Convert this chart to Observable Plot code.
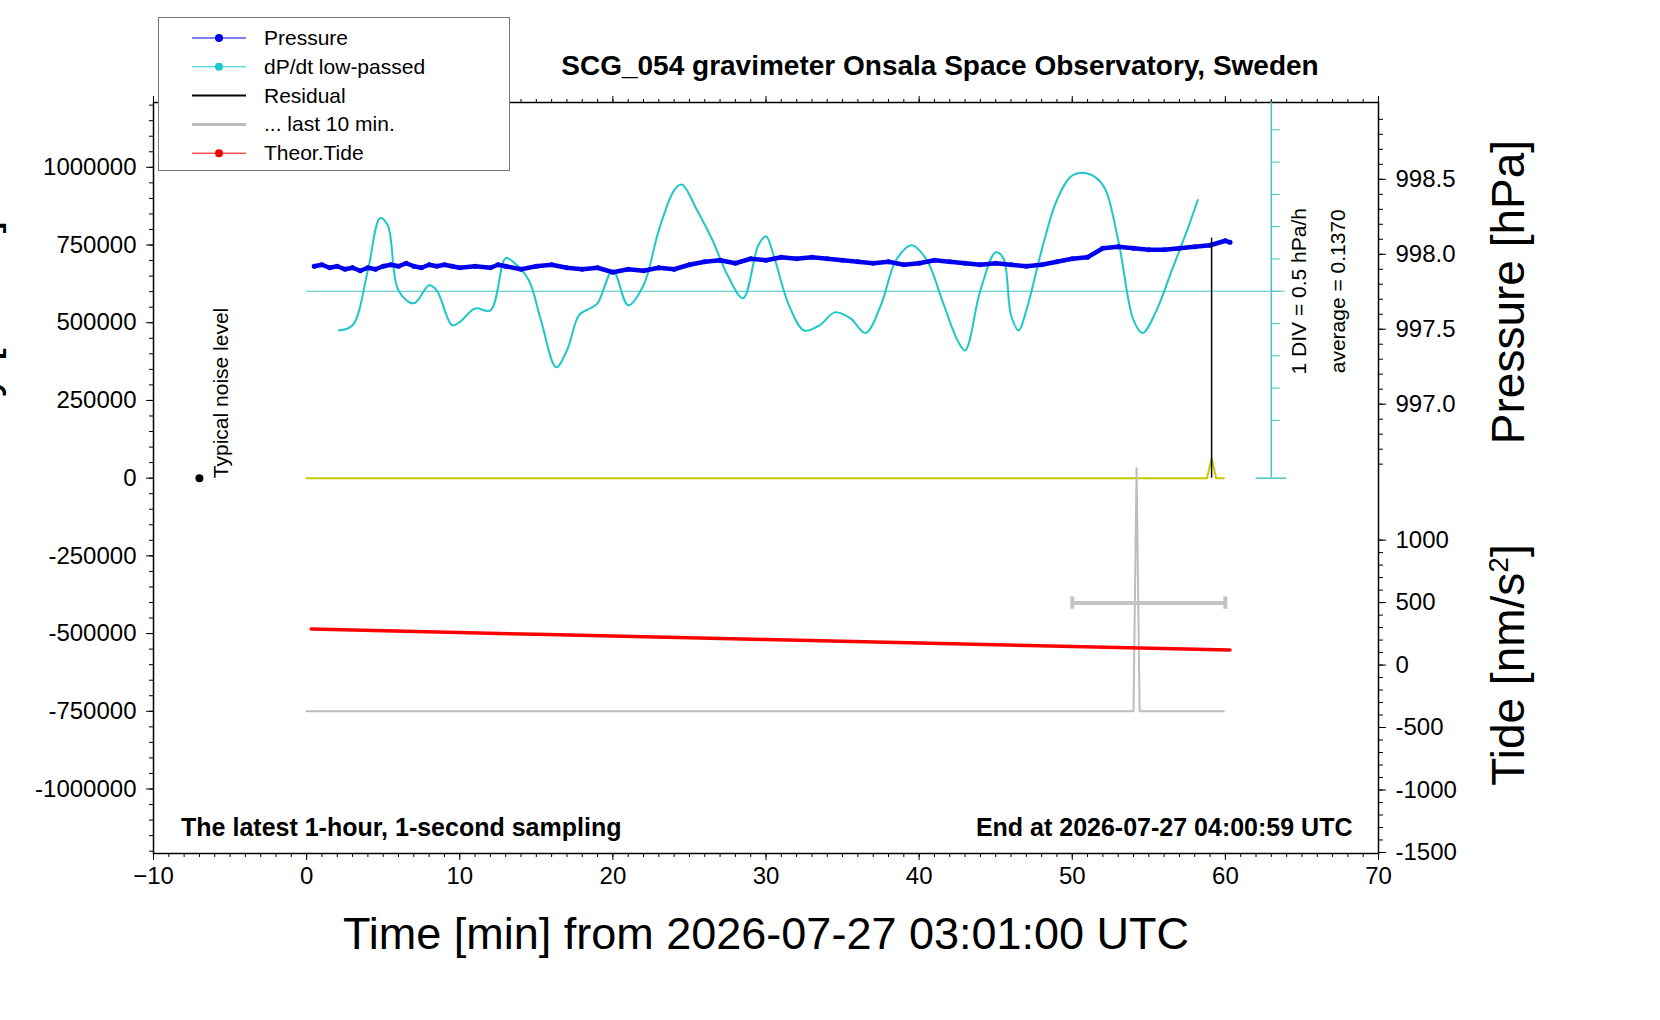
<!DOCTYPE html>
<html><head><meta charset="utf-8">
<script src="https://cdn.jsdelivr.net/npm/d3@7"></script>
<script src="https://cdn.jsdelivr.net/npm/@observablehq/plot@0.6"></script>
<style>
body{margin:0;background:#fff;font-family:"Liberation Sans",Arial,sans-serif;}
#wrap{position:relative;width:1660px;height:1020px;overflow:hidden;}
.t{position:absolute;white-space:nowrap;color:#000;}
</style></head><body><div id="wrap"></div>
<script>
// ---- data ----
const pressT = [0.5,1,1.5,2,2.5,3,3.5,4,4.5,5,5.5,6,6.5,7,7.5,8,8.5,9,9.5,10,11,12,12.5,13,14,15,16,17,18,19,20,21,22,23,24,25,26,27,28,29,30,31,32,33,34,35,36,37,38,39,40,41,42,43,44,45,46,47,48,49,50,51,52,53,54,55,56,57,58,59,60,60.3];
const pressV = [997.92,997.93,997.91,997.92,997.90,997.91,997.89,997.91,997.90,997.92,997.93,997.92,997.94,997.92,997.91,997.93,997.92,997.93,997.92,997.91,997.92,997.91,997.93,997.92,997.90,997.92,997.93,997.91,997.90,997.91,997.88,997.90,997.89,997.91,997.90,997.93,997.95,997.96,997.94,997.97,997.96,997.98,997.97,997.98,997.97,997.96,997.95,997.94,997.95,997.93,997.94,997.96,997.95,997.94,997.93,997.94,997.93,997.92,997.93,997.95,997.97,997.98,998.04,998.05,998.04,998.03,998.03,998.04,998.05,998.06,998.09,998.08];
const dpT = [2.1,3,4,4.8,5.3,6,7,8,8.5,9.5,10,11,12,13,13.5,14.5,15.3,16.3,17,17.8,18.5,19,20,21,22,23,24,24.5,25.5,26.5,27.5,28.5,29.5,30,30.5,31.5,32.5,33.5,34.5,35.5,36.5,37.5,38.5,39.5,40.5,41.5,42.5,43,44,45,45.5,46,46.5,47,48,49,50,51,52,53,54,54.6,55.5,56.5,57.5,58.2];
const dpV = [-0.47,-0.39,0.46,1.27,1.16,0.15,-0.05,0.23,0.15,-0.39,-0.34,-0.13,-0.16,0.65,0.59,0.31,-0.31,-1.04,-0.78,-0.23,-0.13,-0.05,0.46,-0.08,0.23,1.08,1.70,1.79,1.39,0.93,0.38,0.03,0.85,0.99,0.69,-0.08,-0.47,-0.39,-0.19,-0.28,-0.51,-0.08,0.62,0.85,0.62,0.00,-0.62,-0.78,0.15,0.74,0.65,-0.23,-0.47,-0.16,0.77,1.55,1.93,1.96,1.78,0.93,-0.31,-0.51,-0.16,0.46,1.08,1.55];
const dpAverage = 0.1370, dpDiv = 0.5;
const residT = [0,58.8,59.1,59.4,59.9];
const residV = [0,0,64000,0,0];
const residSpike = {t:59.1, v:772000};
const lastT = [0,54.0,54.2,54.4,59.9];
const lastV = [-750000,-750000,32000,-750000,-750000];
const lastBar = {t0:50, t1:60, tc:54.2, v:-402000};
const tideT = [0.3,15,30,45,60.3];
const tideV = [288,246,204,162,120];
const noise = {t:-7, v:0};
const gTicks = [-1000000,-750000,-500000,-250000,0,250000,500000,750000,1000000];
const pTicks = [997.0,997.5,998.0,998.5];
const tideTicks = [-1500,-1000,-500,0,500,1000];

// mappings of secondary quantities onto gravity-axis units
const P2G = p => (224 + 150*(p-998))/311*1e6;
const G2P = g => 998 + (g*311/1e6 - 224)/150;
const T2G = t => (-187 + 0.125*t)/311*1e6;
const G2T = g => (g*311/1e6 + 187)/0.125;
const D2G = v => (187 + (v-dpAverage)/dpDiv*32.3)/311*1e6;

const press = pressT.map((t,i)=>({t,g:P2G(pressV[i])}));
const dp = dpT.map((t,i)=>({t,g:D2G(dpV[i])}));
const resid = residT.map((t,i)=>({t,g:residV[i]}));
const last = lastT.map((t,i)=>({t,g:lastV[i]}));
const tide = tideT.map((t,i)=>({t,g:T2G(tideV[i])}));
const dpDivs = d3.range(-4,6).map(k=>D2G(dpAverage+k*dpDiv));
const dpBottom = D2G(dpAverage-dpDiv*187/32.3);

const fs = 24;
const plot = Plot.plot({
  width:1660, height:1020,
  marginLeft:153, marginRight:282, marginTop:102, marginBottom:167,
  style:{fontFamily:"Liberation Sans, Arial, sans-serif", fontSize:fs+"px", background:"transparent"},
  x:{domain:[-10,70]},
  y:{domain:[-1207500,1208500]},
  marks:[
    Plot.frame({stroke:"#000", strokeWidth:1.5}),
    Plot.axisX({anchor:"bottom", ticks:d3.range(-10,71,10), tickSize:7, tickPadding:6, fontSize:fs, label:null}),
    Plot.axisX({anchor:"bottom", ticks:d3.range(-10,71,1), tickSize:4, tickFormat:()=>"", label:null}),
    Plot.axisX({anchor:"top", ticks:d3.range(-10,71,10), tickSize:7, tickFormat:()=>"", label:null}),
    Plot.axisX({anchor:"top", ticks:d3.range(-10,71,1), tickSize:4, tickFormat:()=>"", label:null}),
    Plot.axisY({anchor:"left", ticks:gTicks, tickSize:7, tickPadding:10, fontSize:fs, tickFormat:d=>String(d), label:null}),
    Plot.axisY({anchor:"left", ticks:d3.range(-1200000,1200001,50000), tickSize:4, tickFormat:()=>"", label:null}),
    Plot.axisY({anchor:"right", ticks:pTicks.map(P2G), tickSize:7, tickPadding:10, fontSize:fs, tickFormat:g=>G2P(g).toFixed(1), label:null}),
    Plot.axisY({anchor:"right", ticks:d3.range(9966,9990).map(p=>P2G(p/10)), tickSize:4, tickFormat:()=>"", label:null}),
    Plot.axisY({anchor:"right", ticks:tideTicks.map(T2G), tickSize:7, tickPadding:10, fontSize:fs, tickFormat:g=>String(Math.round(G2T(g))), label:null}),
    Plot.axisY({anchor:"right", ticks:d3.range(-15,11).map(k=>T2G(k*100)), tickSize:4, tickFormat:()=>"", label:null}),
    Plot.ruleY([D2G(dpAverage)], {x1:0, x2:63.9, stroke:"#4cc4c4", strokeWidth:1.2}),
    Plot.ruleX([63.0], {y1:dpBottom, y2:1208500, stroke:"#4cc4c4", strokeWidth:1.5}),
    Plot.ruleY(dpDivs.filter(g=>g>0 && g<1208500), {x1:63.0, x2:63.6, stroke:"#4cc4c4"}),
    Plot.ruleY([dpBottom], {x1:62.0, x2:64.0, stroke:"#4cc4c4", strokeWidth:1.5}),
    Plot.text(["1 DIV = 0.5 hPa/h"], {x:64.8, y:D2G(dpAverage), rotate:-90, fontSize:21}),
    Plot.text(["average = 0.1370"], {x:67.4, y:D2G(dpAverage), rotate:-90, fontSize:21}),
    Plot.line(dp, {x:"t", y:"g", stroke:"#1ec8c8", strokeWidth:2, curve:"catmull-rom"}),
    Plot.line(press, {x:"t", y:"g", stroke:"#0000ee", strokeWidth:4.5}),
    Plot.dot(press, {x:"t", y:"g", fill:"#0000ee", r:2.5}),
    Plot.line(resid, {x:"t", y:"g", stroke:"#c8c800", strokeWidth:2}),
    Plot.ruleX([residSpike], {x:"t", y1:0, y2:"v", stroke:"#000", strokeWidth:1.5}),
    Plot.line(last, {x:"t", y:"g", stroke:"#bdbdbd", strokeWidth:2}),
    Plot.ruleY([lastBar], {x1:"t0", x2:"t1", y:"v", stroke:"#c4c4c4", strokeWidth:4}),
    Plot.ruleX([lastBar.t0, lastBar.t1], {y1:lastBar.v-20000, y2:lastBar.v+20000, stroke:"#c4c4c4", strokeWidth:4}),
    Plot.line(tide, {x:"t", y:"g", stroke:"#ff0000", strokeWidth:3.5}),
    Plot.dot([noise], {x:"t", y:"v", fill:"#000", r:4}),
    Plot.text(["Typical noise level"], {x:-5.4, y:0, rotate:-90, textAnchor:"start", fontSize:21, dx:-3}),
    Plot.text(["The latest 1-hour, 1-second sampling"], {x:-8.2, y:-1126000, textAnchor:"start", fontSize:25, fontWeight:"bold"}),
    Plot.text(["End at 2026-07-27 04:00:59 UTC"], {x:68.3, y:-1126000, textAnchor:"end", fontSize:25, fontWeight:"bold"})
  ]
});
const wrap = document.getElementById("wrap");
wrap.appendChild(plot);
plot.style.position="absolute"; plot.style.left="0"; plot.style.top="0";
function addText(html, css){const d=document.createElement("div");d.className="t";d.innerHTML=html;d.style.cssText+=css;wrap.appendChild(d);}
addText("SCG_054 gravimeter Onsala Space Observatory, Sweden","left:940px;top:50px;transform:translateX(-50%);font-size:28px;font-weight:bold;");
addText("Time [min] from 2026-07-27 03:01:00 UTC","left:766px;top:908px;transform:translateX(-50%);font-size:45px;");
addText("Pressure [hPa]","left:1508px;top:292px;transform:translate(-50%,-50%) rotate(-90deg);font-size:46px;");
addText("Tide [nm/s<sup style='font-size:28px'>2</sup>]","left:1508px;top:665px;transform:translate(-50%,-50%) rotate(-90deg);font-size:46px;");
addText("Gravity [nm/s<sup style='font-size:28px'>2</sup>]","left:-20px;top:370px;transform:translate(-50%,-50%) rotate(-90deg);font-size:46px;");
const leg = [["Pressure","#0000ee",true,1],["dP/dt low-passed","#1ec8c8",true,1],["Residual","#000",false,2],["... last 10 min.","#bdbdbd",false,3],["Theor.Tide","#ff0000",true,1]];
let s = `<svg width="352" height="154" style="position:absolute;left:158px;top:17px;background:#fff"><rect x="0.5" y="0.5" width="351" height="153" fill="#fff" stroke="#777"/>`;
leg.forEach((l,i)=>{const y=21+i*28.8;s+=`<line x1="34" x2="88" y1="${y}" y2="${y}" stroke="${l[1]}" stroke-width="${l[3]}"/>`;if(l[2])s+=`<circle cx="61" cy="${y}" r="4" fill="${l[1]}"/>`;s+=`<text x="106" y="${y+7}" font-size="21" font-family="Liberation Sans, Arial">${l[0]}</text>`;});
s+="</svg>";
wrap.insertAdjacentHTML("beforeend", s);
</script></body></html>
